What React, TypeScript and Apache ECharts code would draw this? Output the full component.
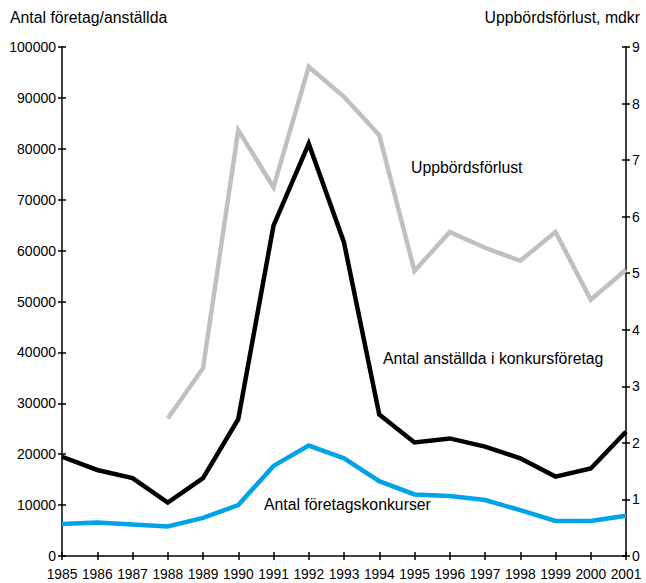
import React, { useEffect, useRef } from "react";
import * as echarts from "echarts";

const years = ["1985","1986","1987","1988","1989","1990","1991","1992","1993","1994","1995","1996","1997","1998","1999","2000","2001"];
const anstallda = [19500, 16900, 15300, 10500, 15300, 26900, 64900, 81000, 61600, 27800, 22300, 23100, 21500, 19200, 15600, 17200, 24400];
const konkurser = [6300, 6600, 6200, 5800, 7500, 10000, 17700, 21700, 19200, 14700, 12100, 11800, 11000, 9000, 6900, 6900, 7900];
const forlust = [null, null, null, 2.43, 3.32, 7.53, 6.52, 8.65, 8.12, 7.44, 5.04, 5.73, 5.45, 5.22, 5.73, 4.53, 5.06];

const FONT = "'Liberation Sans', Arial, sans-serif";
const TXT = 15.8;

export default function App() {
  const ref = useRef<HTMLDivElement>(null);
  useEffect(() => {
    const chart = echarts.init(ref.current!, null, { renderer: "svg" });
    const tickInside = { show: true, inside: true, length: 4, lineStyle: { color: "#000", width: 1.5 } };
    const tickOutside = { show: true, inside: false, length: 4, lineStyle: { color: "#000", width: 1.5 } };
    chart.setOption({
      animation: false,
      backgroundColor: "#fff",
      textStyle: { fontFamily: FONT },
      grid: { left: 62, right: 20, top: 47, bottom: 27 },
      xAxis: [
        {
          type: "category", data: years, boundaryGap: false,
          axisLine: { show: true, lineStyle: { color: "#000", width: 1.5 } },
          axisTick: { ...tickOutside, alignWithLabel: true },
          axisLabel: { color: "#000", fontSize: 13.8, fontFamily: FONT, margin: 11, interval: 0 },
          splitLine: { show: false },
        },
        {
          type: "category", data: years, boundaryGap: false, position: "bottom",
          axisLine: { show: false }, axisTick: tickInside, axisLabel: { show: false }, splitLine: { show: false },
        },
      ],
      yAxis: [
        {
          type: "value", min: 0, max: 100000, interval: 10000, position: "left",
          axisLine: { show: true, lineStyle: { color: "#000", width: 1.5 } },
          axisTick: tickOutside,
          axisLabel: { color: "#000", fontSize: 14, fontFamily: FONT, margin: 6, formatter: (v: number) => String(v) },
          splitLine: { show: false },
        },
        {
          type: "value", min: 0, max: 9, interval: 1, position: "right",
          axisLine: { show: true, lineStyle: { color: "#000", width: 1.5 } },
          axisTick: tickOutside,
          axisLabel: { color: "#000", fontSize: 14, fontFamily: FONT, margin: 6 },
          splitLine: { show: false },
        },
        {
          type: "value", min: 0, max: 100000, interval: 10000, position: "left",
          axisLine: { show: false }, axisTick: tickInside, axisLabel: { show: false }, splitLine: { show: false },
        },
        {
          type: "value", min: 0, max: 9, interval: 1, position: "right",
          axisLine: { show: false }, axisTick: tickInside, axisLabel: { show: false }, splitLine: { show: false },
        },
      ],
      series: [
        {
          name: "Uppbördsförlust", type: "line", yAxisIndex: 1, data: forlust, showSymbol: false, symbol: "none",
          lineStyle: { color: "#c0c0c0", width: 4.5, join: "miter", cap: "butt" }, z: 2,
        },
        {
          name: "Antal anställda i konkursföretag", type: "line", yAxisIndex: 0, data: anstallda, showSymbol: false, symbol: "none",
          lineStyle: { color: "#000000", width: 4.5, join: "miter", cap: "butt" }, z: 3,
        },
        {
          name: "Antal företagskonkurser", type: "line", yAxisIndex: 0, data: konkurser, showSymbol: false, symbol: "none",
          lineStyle: { color: "#00a2e8", width: 4.5, join: "miter", cap: "butt" }, z: 4,
        },
      ],
      graphic: [
        { type: "text", left: 10, top: 9, style: { text: "Antal företag/anställda", fontSize: TXT, fontFamily: FONT, fill: "#000" } },
        { type: "text", right: 6, top: 9, style: { text: "Uppbördsförlust, mdkr", fontSize: TXT, fontFamily: FONT, fill: "#000" } },
        { type: "text", left: 411, top: 159, style: { text: "Uppbördsförlust", fontSize: TXT, fontFamily: FONT, fill: "#000" } },
        { type: "text", left: 383, top: 350, style: { text: "Antal anställda i konkursföretag", fontSize: TXT, fontFamily: FONT, fill: "#000" } },
        { type: "text", left: 264, top: 496, style: { text: "Antal företagskonkurser", fontSize: TXT, fontFamily: FONT, fill: "#000" } },
      ],
    });
    return () => chart.dispose();
  }, []);
  return <div ref={ref} style={{ width: 646, height: 583, position: "absolute", left: 0, top: 0 }} />;
}
